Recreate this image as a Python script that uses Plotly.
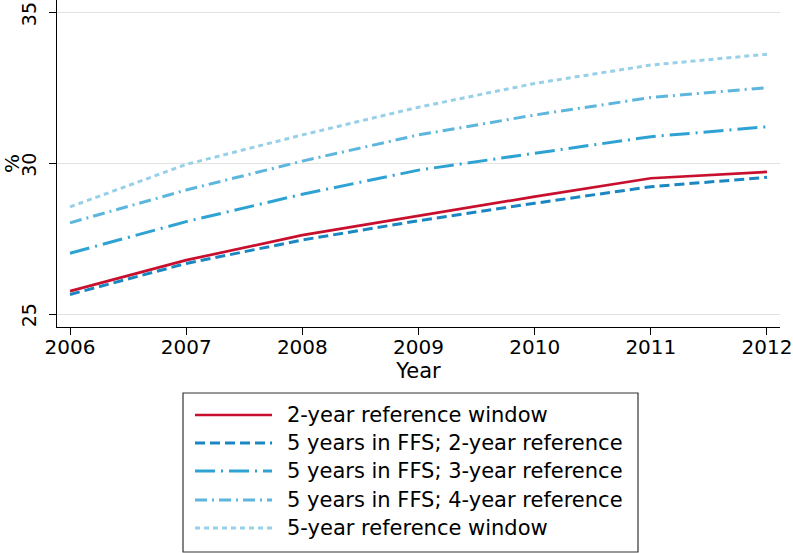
import plotly.graph_objects as go

years = [2006, 2007, 2008, 2009, 2010, 2011, 2012]
series_names = [
    "2-year reference window",
    "5 years in FFS; 2-year reference",
    "5 years in FFS; 3-year reference",
    "5 years in FFS; 4-year reference",
    "5-year reference window",
]
ref2 = [25.76, 26.79, 27.62, 28.27, 28.90, 29.51, 29.72]
ffs_ref2 = [25.65, 26.68, 27.46, 28.10, 28.68, 29.23, 29.54]
ffs_ref3 = [27.02, 28.07, 28.98, 29.78, 30.34, 30.89, 31.22]
ffs_ref4 = [28.03, 29.12, 30.08, 30.95, 31.61, 32.19, 32.52]
ref5 = [28.56, 29.97, 30.95, 31.87, 32.66, 33.27, 33.63]
y_ticks = [25, 30, 35]

values = [ref2, ffs_ref2, ffs_ref3, ffs_ref4, ref5]
colors = ["#C8102E", "#1B87C2", "#2EA3D3", "#5DB6DD", "#98D0E8"]
dashes = ["solid", "10px,5px", "20px,6px,2px,6px", "12px,5px,2px,5px", "5px,4px"]
widths = [2.7, 3, 3, 3, 3]

W, H = 793, 553
ML, MR, MT, MB = 57, 13, 0, 226
PW, PH = W - ML - MR, H - MT - MB

FONT = "DejaVu Sans"

fig = go.Figure()
for name, v, c, d, w in zip(series_names, values, colors, dashes, widths):
    fig.add_trace(go.Scatter(x=years, y=v, mode="lines", name=name,
                             line=dict(color=c, dash=d, width=w),
                             showlegend=False))

def px2paper(px, py):
    return (px - ML) / PW, (H - MB - py) / PH

# manual legend box
x0, y0 = px2paper(183, 393)
x1, y1 = px2paper(638, 552)
fig.add_shape(type="rect", xref="paper", yref="paper", x0=x0, y0=y0, x1=x1, y1=y1,
              line=dict(color="#333333", width=1.2), fillcolor="white", layer="below")
row_y = [415, 443, 471, 500, 528]
for name, c, d, w, ry in zip(series_names, colors, dashes, widths, row_y):
    lx0, ly = px2paper(195, ry)
    lx1, _ = px2paper(272, ry)
    fig.add_shape(type="line", xref="paper", yref="paper", x0=lx0, y0=ly, x1=lx1, y1=ly,
                  line=dict(color=c, dash=d, width=w))
    tx, _ = px2paper(285, ry)
    fig.add_annotation(xref="paper", yref="paper", x=tx, y=ly, text=name,
                       showarrow=False, xanchor="left", yanchor="middle",
                       font=dict(family=FONT, size=21, color="black"))

fig.update_layout(
    width=W, height=H,
    margin=dict(l=ML, r=MR, t=MT, b=MB, pad=0),
    plot_bgcolor="white", paper_bgcolor="white",
    font=dict(family=FONT, size=20, color="black"),
    showlegend=False,
)
fig.update_xaxes(
    range=[2005.888, 2012.112], tickvals=years, ticktext=[str(y) for y in years],
    showgrid=False, zeroline=False, automargin=False,
    showline=True, linecolor="black", linewidth=1.3,
    ticks="outside", ticklen=7, tickcolor="black", tickwidth=1.3,
    ticklabelstandoff=-5, ticklabeloverflow="allow",
    title=dict(text="Year", font=dict(size=21), standoff=0),
    tickfont=dict(size=20),
)
fig.update_yaxes(
    range=[24.57, 35.43], tickvals=y_ticks, ticktext=[str(t) for t in y_ticks],
    tickangle=-90, automargin=False,
    showgrid=True, gridcolor="#E2E2E2", gridwidth=1.3, zeroline=False,
    showline=True, linecolor="black", linewidth=1.3,
    ticks="outside", ticklen=7, tickcolor="black", tickwidth=1.3,
    ticklabelstandoff=5, ticklabelshift=4, ticklabeloverflow="allow",
    title=dict(text="%", font=dict(size=20), standoff=2),
    tickfont=dict(size=19),
)

fig.write_html("out.html", config={"displayModeBar": False},
               post_script="document.body.style.margin='0';document.body.style.overflow='hidden';")
